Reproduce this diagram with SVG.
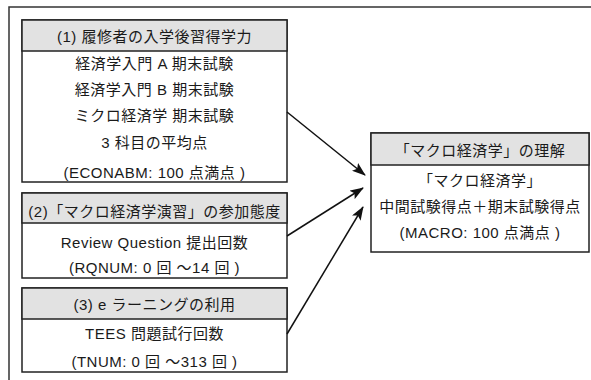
<svg xmlns="http://www.w3.org/2000/svg" width="591" height="380" viewBox="0 0 591 380">
<style>
text{font-family:"Liberation Sans","Noto Sans CJK JP",sans-serif;font-size:15px;fill:#1a1a1a;text-anchor:middle;dominant-baseline:central;letter-spacing:0.5px}
.hd{fill:#e2e2e2;stroke:#222;stroke-width:1.5}
.bd{fill:#fff;stroke:#222;stroke-width:1.5}
.frame{fill:none;stroke:#333;stroke-width:1.5}
.conn{fill:none;stroke:#111;stroke-width:1.5}
</style>
<defs>
<marker id="ah" viewBox="0 0 14 10" refX="13" refY="5" markerWidth="14" markerHeight="10" markerUnits="userSpaceOnUse" orient="auto">
<path d="M0,0 L14,5 L0,10 L3,5 z" fill="#111"/>
</marker>
</defs>
<path class="frame" d="M9,380 V7 H591"/>
<g id="node1">
<rect class="bd" x="22" y="20" width="265" height="162"/>
<rect class="hd" x="22" y="20" width="265" height="31"/>
<text x="154.5" y="36">(1) 履修者の入学後習得学力</text>
<text x="154.5" y="63">経済学入門 A 期末試験</text>
<text x="154.5" y="89">経済学入門 B 期末試験</text>
<text x="154.5" y="115">ミクロ経済学 期末試験</text>
<text x="154.5" y="142">3 科目の平均点</text>
<text x="154.5" y="172">(ECONABM: 100 点満点 )</text>
</g>
<g id="node2">
<rect class="bd" x="22" y="193" width="265" height="85"/>
<rect class="hd" x="22" y="193" width="265" height="30"/>
<text x="154.5" y="211">(2)「マクロ経済学演習」の参加態度</text>
<text x="154.5" y="242">Review  Question 提出回数</text>
<text x="154.5" y="267">(RQNUM: 0 回 ～14 回 )</text>
</g>
<g id="node3">
<rect class="bd" x="22" y="288" width="265" height="84"/>
<rect class="hd" x="22" y="288" width="265" height="31"/>
<text x="154.5" y="304">(3) e ラーニングの利用</text>
<text x="154.5" y="333">TEES 問題試行回数</text>
<text x="154.5" y="361">(TNUM: 0 回 ～313 回 )</text>
</g>
<g id="node4">
<rect class="bd" x="371" y="133" width="218" height="119"/>
<rect class="hd" x="371" y="133" width="218" height="32"/>
<text x="480" y="150">「マクロ経済学」の理解</text>
<text x="480" y="180">「マクロ経済学」</text>
<text x="480" y="206">中間試験得点＋期末試験得点</text>
<text x="480" y="232">(MACRO: 100 点満点 )</text>
</g>
<g id="connectors">
<line class="conn" x1="287" y1="112" x2="365" y2="175" marker-end="url(#ah)"/>
<line class="conn" x1="287" y1="236" x2="363" y2="188" marker-end="url(#ah)"/>
<line class="conn" x1="287" y1="334" x2="363" y2="207" marker-end="url(#ah)"/>
</g>
</svg>
